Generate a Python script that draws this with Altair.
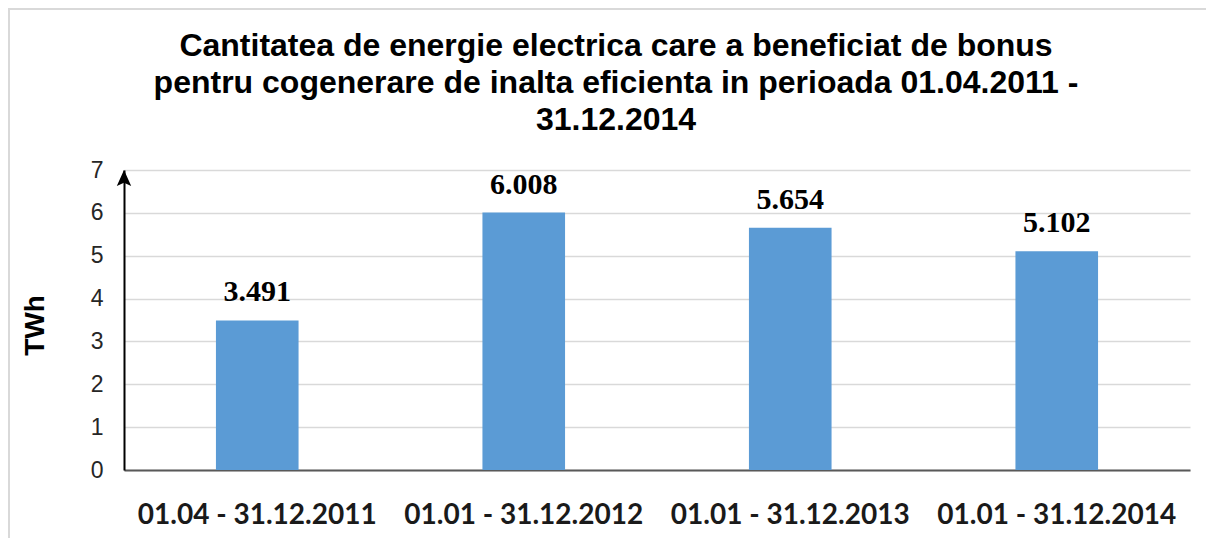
import altair as alt
import pandas as pd

periods = ["01.04 - 31.12.2011", "01.01 - 31.12.2012", "01.01 - 31.12.2013", "01.01 - 31.12.2014"]
values = [3.491, 6.008, 5.654, 5.102]
labels = ["3.491", "6.008", "5.654", "5.102"]
title_lines = [
    "Cantitatea de energie electrica care a beneficiat de bonus",
    "pentru cogenerare de inalta eficienta in perioada 01.04.2011 -",
    "31.12.2014",
]

df = pd.DataFrame({"period": periods, "value": values, "label": labels})
one = pd.DataFrame({"k": [0]})

W, H = 1066, 300

x_enc = alt.X("period:N", sort=periods, title=None,
              scale=alt.Scale(paddingInner=0.69, paddingOuter=0.345),
              axis=alt.Axis(labelFont="Lato", labelFontWeight="bold", labelFontSize=28,
                            labelColor="#1a1a1a", labelPadding=31, ticks=False, labelLimit=0,
                            domainColor="#595959", domainWidth=2, labelAngle=0, grid=False))
y_enc = alt.Y("value:Q", title="TWh",
              scale=alt.Scale(domain=[0, 7], nice=False),
              axis=alt.Axis(values=[0, 1, 2, 3, 4, 5, 6, 7], labelFont="Liberation Sans",
                            labelFontSize=23, labelColor="#262626", labelPadding=21,
                            ticks=False, domainColor="#000000", domainWidth=2,
                            gridColor="#d9d9d9", gridWidth=1.5,
                            titleFont="Liberation Sans", titleFontSize=28, titleFontWeight="bold",
                            titleColor="#000000", titleAngle=-90, titleX=-89, titleY=155,
                            titleAlign="center", titleBaseline="middle"))

bars = alt.Chart(df).mark_bar(color="#5B9BD5").encode(x=x_enc, y=y_enc)

text = alt.Chart(df).mark_text(font="Liberation Serif", fontWeight="bold", fontSize=30,
                               baseline="alphabetic", dy=-19, color="#000000").encode(
    x=alt.X("period:N", sort=periods), y=alt.Y("value:Q"), text="label:N")

arrow = alt.Chart(one).mark_point(
    shape="M0,0L0.9,2L0,1.6L-0.9,2Z", size=256, filled=True, color="#000000", opacity=1
).encode(x=alt.value(0), y=alt.value(0))

frame = alt.Chart(one).mark_rect(filled=False, stroke="#d9d9d9", strokeWidth=2).encode(
    x=alt.value(-115), y=alt.value(-161), x2=alt.value(1200), y2=alt.value(500))

chart = alt.layer(frame, bars, text, arrow).properties(
    width=W, height=H,
    title=alt.Title(title_lines, font="Liberation Sans", fontSize=32, fontWeight="bold",
                    color="#000000", anchor="middle", frame="group", dx=-41, offset=0, dy=161,
                    lineHeight=37, baseline="bottom"),
    autosize=alt.AutoSizeParams(type="none"),
    padding={"left": 116, "top": 162, "right": 16, "bottom": 68},
).configure_view(stroke=None).configure_axis(labelOverlap=False)

chart.save("out.html", embed_options={"renderer": "svg", "actions": False})
